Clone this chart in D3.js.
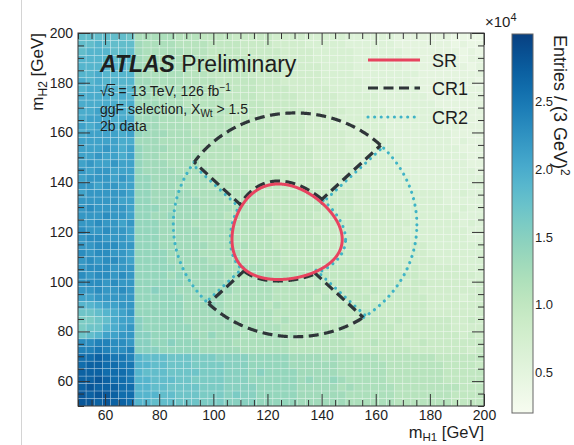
<!DOCTYPE html>
<html>
<head>
<meta charset="utf-8">
<script src="https://cdn.jsdelivr.net/npm/d3@7"></script>
<style>
  body { margin: 0; background: #fff; }
  svg { display: block; }
  text { font-family: "Liberation Sans", Arial, Helvetica, sans-serif; fill: #1e1e1e; }
</style>
</head>
<body>
<svg id="chart" width="574" height="445"></svg>
<script>
// ---- data -------------------------------------------------------------
const mH1Range = [50, 200];
const mH2Range = [50, 200];
const binWidth = 3;            // GeV per bin in both directions

// Entries per (3 GeV)^2 bin, in units of 1000 entries, one base-36 digit per bin.
// Rows run from the top (mH2 = 197-200 GeV) down to the bottom (mH2 = 50-53 GeV),
// columns from mH1 = 50 GeV to 200 GeV.
const entriesRows = [
  "iiiiiih ccccc bbbaa aa999 99888 87777 76666 66555 55554 444",
  "iijiiii dcccc bbbba aaa99 99888 87777 76666 66555 55554 544",
  "ijjjiii dcccc cbbba aaa99 99988 88777 77666 66655 55555 454",
  "jjjjiij dcccc cbbba aaaa9 99988 88777 77666 66655 55555 455",
  "jjjjjji ddccc cbbbb aaaa9 99998 88877 77666 66655 55555 545",
  "jjkjjjj dcccc cbbba aaaa9 99988 88877 77666 66666 55555 555",
  "kjkjjjj ddccc cbbbb aaaaa 99988 88877 77766 66665 55555 554",
  "jkkkjjj ddccc ccbbb aaaaa 99998 88887 77766 66666 55555 555",
  "kkkkjkj ddccc cbbbb baaaa 99999 88888 77777 66666 65555 555",
  "kkkkkjk dddcc cbbbb baaaa a9999 88888 77777 66666 66555 555",
  "kklkkkj dddcc ccbbb bbaaa a9999 98888 87777 76666 66655 555",
  "kllkkkk dddcc cbbbb baaaa a9999 98888 77777 66666 66555 555",
  "lkllkkk dddcc ccbbb bbaaa aa999 98888 77777 76666 66656 555",
  "kllllkl edddc ccbbb bbaaa a9999 98888 87777 76666 66665 555",
  "lllllkk dddcc cccbb bbaaa aa999 98888 87777 77666 66665 655",
  "lllmlkl edddc ccbbb bbbaa a9999 99888 87777 77666 66666 555",
  "llmllkl eddcc cccbb bbaaa aa999 99888 88777 77766 66666 655",
  "lmllmll edddc cccbb bbbaa aa999 99888 88777 77766 66666 655",
  "mlmmlll edddd ccccb bbbaa aa999 99988 88877 77766 66666 665",
  "lmmmlml eeddd dcccb bbbba aaa99 99988 88877 77776 66666 666",
  "mmlmmll eeddd ccccb bbbba aaa99 99988 88887 77776 66666 666",
  "lmmmmml eeddd ddccc cbbbb aaaaa aa999 99888 88777 77766 766",
  "mmmmmll eeddd dddcc cbbbb baaaa a9a99 99888 88777 77766 666",
  "mnmmmml eeedd dddcc ccbbb baaaa aaa99 99888 88877 77776 766",
  "mmmnmml eedde dddcc cbbbb bbaaa aa999 99988 88877 77777 666",
  "mmnmmlm eeedd ddccc ccbbb bbaaa aaa99 99988 88887 77777 676",
  "nmmnmml eeedd dddcc ccbbb baaaa aa999 99988 88877 77777 766",
  "mnnmmml eeedd dddcc ccbbb bbaaa aaa99 99988 88887 77777 766",
  "mmnnnmm eeedd ddddc ccbcb bbaaa aaa99 99988 88888 87777 777",
  "nmnnmml eeeed dddcc cccbb bbbaa aaa99 99998 88888 87777 777",
  "mnmnnml eeeed ddddc cccbb bbbaa aaaa9 99998 88888 88777 777",
  "mnnnmmm eeeee ddddd dcccc cbbbb bbaaa aaa99 99989 88888 777",
  "nmnnmnm eeeed edddd dccbc ccbbb bbbaa aaa99 99999 88888 887",
  "mnnmnmm eeeee edddd dcccc ccbbb babaa aaaa9 99989 98888 878",
  "mmnmmnm eefee ddddd cdccc ccbbb bbbaa aaa9a 99999 88888 888",
  "llmmmmm eeeee edddd dcccc ccbbb bbaba aaaa9 99999 98888 788",
  "jjkllmm eeeee eddde dcccc cbcbb bbbaa aaa99 99999 98888 888",
  "hhijklm eeeee edddd dcccc ccbbb bbbaa aaaa9 99999 98888 888",
  "gghikll feeee edddd ddccc ccbcb bbbaa baaaa a9a99 99998 898",
  "ghhjklm feeee eeddd ddccc cccbb bbbba baaaa aa999 99998 888",
  "hijllmm ffeee eedde dddcc cccbc bbbbb bbaaa aa9a9 99999 898",
  "nnoonnm ffeef eeedd ddccc ccccb bbbbb baaab aaa99 a9999 999",
  "ooponno fffee eeedd dddcc ccccb bbbbb bbaaa aaaa9 99999 989",
  "qqrqppo jiiih hhggg ffffe eeeed dddcd ccccc bbbbb bbaaa aaa",
  "qrrqqpp jjiih hhggg gfffe eeeed ddddd ccccc cbbbb bbbaa aa9",
  "rrrqqqp jiiih hhhgg gfffe feeee ddddd ccccc cbbbb bbbaa aaa",
  "rrsrqqp jjiii hhggg gfffe eeeee dedde dcccc cbbbb bbbaa aaa",
  "rsrrrqq jjiih hhhgg gffff eeeee ddddd cdccc ccbbb bbbbb aaa",
  "srssrqq jjjii hhhgg gfgff eeeee ddddd dcccc ccbbb bbbba aaa",
  "ssrsrrq jjiii hhhgg gffff eeeee ddddd dcccc ccbbb bbbba aaa"
];

const xTicks = [60, 80, 100, 120, 140, 160, 180, 200];
const yTicks = [60, 80, 100, 120, 140, 160, 180, 200];
const zTicks = [0.5, 1.0, 1.5, 2.0, 2.5];   // x 10^4 entries
const zRange = [0.2, 3.0];
const regionNames = ["SR", "CR1", "CR2"];

// Region definitions (GeV)
const srCentre = [124, 117];
const srCut = 1.6;          // X_HH < 1.6
const crScale = 1.05;       // control ring centred at 1.05 x SR centre
const crRadius = 45;

// ---- layout -----------------------------------------------------------
const svg = d3.select("#chart");
const plot = { left: 78, right: 484, top: 33, bottom: 406 };
const x = d3.scaleLinear().domain(mH1Range).range([plot.left, plot.right]);
const y = d3.scaleLinear().domain(mH2Range).range([plot.bottom, plot.top]);
const colour = d3.scaleSequential(d3.interpolateGnBu).domain(zRange);

svg.append("line").attr("x1", 21.5).attr("x2", 21.5).attr("y1", 0).attr("y2", 445)
  .attr("stroke", "#d4d4d4").attr("stroke-width", 1);

svg.append("defs").append("clipPath").attr("id", "plotClip")
  .append("rect").attr("x", plot.left).attr("y", plot.top)
  .attr("width", plot.right - plot.left).attr("height", plot.bottom - plot.top);

// ---- 2D histogram -----------------------------------------------------
const cells = [];
entriesRows.forEach((row, r) => {
  const s = row.replace(/\s+/g, "");
  const j = entriesRows.length - 1 - r;
  for (let i = 0; i < s.length; i++) {
    cells.push({
      x0: mH1Range[0] + i * binWidth,
      y0: mH2Range[0] + j * binWidth,
      v: parseInt(s[i], 36) / 10
    });
  }
});

const hist = svg.append("g").attr("clip-path", "url(#plotClip)");
hist.selectAll("rect").data(cells).join("rect")
  .attr("x", d => x(d.x0))
  .attr("y", d => y(d.y0 + binWidth))
  .attr("width", d => x(d.x0 + binWidth) - x(d.x0))
  .attr("height", d => y(d.y0) - y(d.y0 + binWidth))
  .attr("fill", d => colour(d.v))
  .attr("stroke", "rgba(255,255,255,0.30)")
  .attr("stroke-width", 0.7);

// ---- region boundaries --------------------------------------------------
const [c1, c2] = srCentre;
const crC = [c1 * crScale, c2 * crScale];
const xhh = (m1, m2) => Math.hypot((m1 - c1) / (0.1 * m1), (m2 - c2) / (0.1 * m2));
const srLoop = (cut, n = 1440) => d3.range(n + 1).map(k => {
  const p = 2 * Math.PI * k / n;
  return [c1 / (1 - 0.1 * cut * Math.cos(p)), c2 / (1 - 0.1 * cut * Math.sin(p))];
});
const ringLoop = (n = 1440) => d3.range(n + 1).map(k => {
  const t = 2 * Math.PI * k / n;
  return [crC[0] + crRadius * Math.cos(t), crC[1] + crRadius * Math.sin(t)];
});
function quadrant(p) {
  const dx = p[0] - c1, dy = p[1] - c2;
  if (dy >= Math.abs(dx)) return "top";
  if (-dy >= Math.abs(dx)) return "bottom";
  return dx > 0 ? "right" : "left";
}
function runs(points) {
  const out = [];
  let cur = null;
  points.forEach(p => {
    const q = quadrant(p);
    if (!cur || cur.q !== q) { cur = { q, pts: [] }; out.push(cur); }
    cur.pts.push(p);
  });
  return out;
}
const line = d3.line().x(p => x(p[0])).y(p => y(p[1]));

// diagonal separators between the quadrants
const diagonals = [[1, 1], [-1, 1], [-1, -1], [1, -1]].map(([sx, sy]) => {
  const d = [sx / Math.SQRT2, sy / Math.SQRT2];
  let lo = 0, hi = 60;
  for (let k = 0; k < 60; k++) {
    const mid = (lo + hi) / 2;
    if (xhh(c1 + mid * d[0], c2 + mid * d[1]) < srCut) lo = mid; else hi = mid;
  }
  const q = [c1 - crC[0], c2 - crC[1]];
  const qd = q[0] * d[0] + q[1] * d[1];
  const tOut = -qd + Math.sqrt(qd * qd - (q[0] * q[0] + q[1] * q[1] - crRadius * crRadius));
  return { sx, a: [c1 + lo * d[0], c2 + lo * d[1]], b: [c1 + tOut * d[0], c2 + tOut * d[1]] };
});

const cr1Style = g => g.attr("fill", "none").attr("stroke", "#2f3539")
  .attr("stroke-width", 3.2).attr("stroke-dasharray", "10,5.5");
const cr2Style = g => g.attr("fill", "none").attr("stroke", "#3fb3c6")
  .attr("stroke-width", 3.1).attr("stroke-linecap", "round").attr("stroke-dasharray", "0.01,6.6");

const regions = svg.append("g").attr("clip-path", "url(#plotClip)");

// CR2: left and right quadrants
const cr2 = regions.append("g");
runs(srLoop(1.67)).concat(runs(ringLoop()))
  .filter(r => r.q === "left" || r.q === "right")
  .forEach(r => cr2.append("path").attr("d", line(r.pts)).call(cr2Style));
diagonals.forEach(dg => {
  const A = [x(dg.a[0]), y(dg.a[1])], B = [x(dg.b[0]), y(dg.b[1])];
  const len = Math.hypot(B[0] - A[0], B[1] - A[1]);
  let n = [-(B[1] - A[1]) / len, (B[0] - A[0]) / len];
  const ref = [x(c1 + dg.sx * 10) - x(c1), 0];
  if (n[0] * ref[0] + n[1] * ref[1] < 0) n = [-n[0], -n[1]];
  const off = 2.8;
  cr2.append("path")
    .attr("d", d3.line()([[A[0] + n[0] * off, A[1] + n[1] * off], [B[0] + n[0] * off, B[1] + n[1] * off]]))
    .call(cr2Style);
});

// CR1: top and bottom quadrants
const cr1 = regions.append("g");
runs(srLoop(1.67)).concat(runs(ringLoop()))
  .filter(r => r.q === "top" || r.q === "bottom")
  .forEach(r => cr1.append("path").attr("d", line(r.pts)).call(cr1Style));
diagonals.forEach(dg => cr1.append("path").attr("d", line([dg.a, dg.b])).call(cr1Style));

// SR
regions.append("path").attr("d", line(srLoop(srCut)))
  .attr("fill", "none").attr("stroke", "#e8435f").attr("stroke-width", 3);

// ---- axes -------------------------------------------------------------
const minorX = d3.range(50, 201, 5).filter(v => !xTicks.includes(v));
const minorY = d3.range(50, 201, 5).filter(v => !yTicks.includes(v));
const tickColour = "#333";
function styleAxis(g) {
  g.select(".domain").remove();
  g.selectAll(".tick line").attr("stroke", tickColour).attr("stroke-width", 1);
  g.selectAll(".tick text").style("font-size", "14px")
    .style("font-family", '"Liberation Sans", Arial, sans-serif').attr("fill", "#222");
}
const axes = svg.append("g");
axes.append("g").attr("transform", `translate(0,${plot.bottom})`)
  .call(d3.axisBottom(x).tickValues(xTicks).tickSizeInner(-12).tickSizeOuter(0).tickPadding(4)).call(styleAxis);
axes.append("g").attr("transform", `translate(0,${plot.bottom})`)
  .call(d3.axisBottom(x).tickValues(minorX).tickSizeInner(-6).tickSizeOuter(0).tickFormat("")).call(styleAxis);
axes.append("g").attr("transform", `translate(0,${plot.top})`)
  .call(d3.axisTop(x).tickValues(xTicks).tickSizeInner(-12).tickSizeOuter(0).tickFormat("")).call(styleAxis);
axes.append("g").attr("transform", `translate(0,${plot.top})`)
  .call(d3.axisTop(x).tickValues(minorX).tickSizeInner(-6).tickSizeOuter(0).tickFormat("")).call(styleAxis);
axes.append("g").attr("transform", `translate(${plot.left},0)`)
  .call(d3.axisLeft(y).tickValues(yTicks).tickSizeInner(-12).tickSizeOuter(0).tickPadding(5)).call(styleAxis);
axes.append("g").attr("transform", `translate(${plot.left},0)`)
  .call(d3.axisLeft(y).tickValues(minorY).tickSizeInner(-6).tickSizeOuter(0).tickFormat("")).call(styleAxis);
axes.append("g").attr("transform", `translate(${plot.right},0)`)
  .call(d3.axisRight(y).tickValues(yTicks).tickSizeInner(-12).tickSizeOuter(0).tickFormat("")).call(styleAxis);
axes.append("g").attr("transform", `translate(${plot.right},0)`)
  .call(d3.axisRight(y).tickValues(minorY).tickSizeInner(-6).tickSizeOuter(0).tickFormat("")).call(styleAxis);
axes.append("rect").attr("x", plot.left).attr("y", plot.top)
  .attr("width", plot.right - plot.left).attr("height", plot.bottom - plot.top)
  .attr("fill", "none").attr("stroke", tickColour).attr("stroke-width", 1);

// axis titles
const xTitle = svg.append("text").attr("x", plot.right).attr("y", 438)
  .attr("text-anchor", "end").style("font-size", "16.5px");
xTitle.append("tspan").text("m");
xTitle.append("tspan").attr("dy", 3).style("font-size", "11.5px").text("H1");
xTitle.append("tspan").attr("dy", -3).text(" [GeV]");

const yTitle = svg.append("text").attr("transform", `translate(43,${plot.top}) rotate(-90)`)
  .attr("text-anchor", "end").style("font-size", "17px");
yTitle.append("tspan").text("m");
yTitle.append("tspan").attr("dy", 4).style("font-size", "12px").text("H2");
yTitle.append("tspan").attr("dy", -4).text(" [GeV]");

// ---- colour bar -------------------------------------------------------
const bar = { x: 512, w: 21, top: 34, bottom: 413 };
const z = d3.scaleLinear().domain(zRange).range([bar.bottom, bar.top]);
const grad = svg.select("defs").append("linearGradient").attr("id", "zGrad")
  .attr("x1", 0).attr("y1", 1).attr("x2", 0).attr("y2", 0);
d3.range(0, 1.0001, 0.05).forEach(t => {
  grad.append("stop").attr("offset", t)
    .attr("stop-color", colour(zRange[0] + t * (zRange[1] - zRange[0])));
});
svg.append("rect").attr("x", bar.x).attr("y", bar.top).attr("width", bar.w)
  .attr("height", bar.bottom - bar.top).attr("fill", "url(#zGrad)")
  .attr("stroke", "#666").attr("stroke-width", 1);
svg.append("g").selectAll("text").data(zTicks).join("text")
  .attr("x", bar.x + bar.w + 2).attr("y", d => z(d)).attr("dy", "0.35em")
  .style("font-size", "13px").text(d => d.toFixed(1));

const expo = svg.append("text").attr("x", 485).attr("y", 27).style("font-size", "15px");
expo.append("tspan").text("\u00d710");
expo.append("tspan").attr("dy", -6).style("font-size", "11px").text("4");

const zTitle = svg.append("text").attr("transform", `translate(554,${bar.top + 1}) rotate(90)`)
  .style("font-size", "18px");
zTitle.append("tspan").text("Entries / (3 GeV)");
zTitle.append("tspan").attr("dy", -7).style("font-size", "12px").text("2");

// ---- labels -----------------------------------------------------------
const atlas = svg.append("text").attr("x", 100).attr("y", 72).style("font-size", "23px");
atlas.append("tspan").style("font-weight", "bold").style("font-style", "italic").text("ATLAS");
atlas.append("tspan").text(" Preliminary");

const info = svg.append("g").style("font-size", "14px");
const l1 = info.append("text").attr("x", 100).attr("y", 96);
const rootSign = l1.append("tspan").text("\u221a");
const sSym = l1.append("tspan").text("s");
l1.append("tspan").text(" = 13 TeV, 126 fb");
l1.append("tspan").attr("dy", -5).style("font-size", "10px").text("\u22121");
{
  const w1 = rootSign.node().getComputedTextLength();
  const w2 = sSym.node().getComputedTextLength();
  info.append("line").attr("x1", 100 + w1 - 1).attr("x2", 100 + w1 + w2 + 0.5)
    .attr("y1", 96 - 11.5).attr("y2", 96 - 11.5).attr("stroke", "#1e1e1e").attr("stroke-width", 1);
}
const l2 = info.append("text").attr("x", 100).attr("y", 114);
l2.append("tspan").text("ggF selection, X");
l2.append("tspan").attr("dy", 3).style("font-size", "10px").text("Wt");
l2.append("tspan").attr("dy", -3).text(" > 1.5");
info.append("text").attr("x", 100).attr("y", 131).text("2b data");

// legend
const legY = [60, 88, 117];
const leg = svg.append("g");
regionNames.forEach((name, k) => {
  const ln = leg.append("line").attr("x1", 368).attr("x2", 420).attr("y1", legY[k]).attr("y2", legY[k]);
  if (k === 0) ln.attr("stroke", "#e8435f").attr("stroke-width", 3);
  else if (k === 1) ln.call(cr1Style);
  else ln.call(cr2Style);
  leg.append("text").attr("x", 432).attr("y", legY[k] + 6.5).style("font-size", "18px").text(name);
});
</script>
</body>
</html>
